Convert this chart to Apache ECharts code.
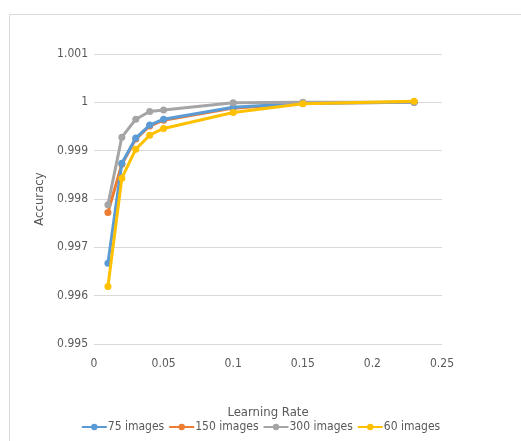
<!DOCTYPE html>
<html>
<head>
<meta charset="utf-8">
<script src="https://cdn.jsdelivr.net/npm/echarts@6/dist/echarts.min.js"></script>
<style>
  html, body { margin: 0; padding: 0; background: #fff; }
  #chart { width: 521px; height: 441px; }
</style>
</head>
<body>
<div id="chart"></div>
<script>
  // learning rates (x) and accuracy per series
  const rates = [0.01, 0.02, 0.03, 0.04, 0.05, 0.1, 0.15, 0.23];
  const acc75 = [0.99667, 0.99874, 0.99926, 0.99953, 0.99965, 0.9999, 0.99998, 1.0];
  const acc150 = [0.99772, 0.99872, 0.99924, 0.99951, 0.99963, 0.99988, 0.99998, 1.0];
  const acc300 = [0.99788, 0.99928, 0.99965, 0.99981, 0.99984, 0.99999, 1.0, 1.0];
  const acc60 = [0.99619, 0.99843, 0.99903, 0.99932, 0.99946, 0.99979, 0.99997, 1.00002];
  const seriesNames = ["75 images", "150 images", "300 images", "60 images"];
  const colors = ["#5B9BD5", "#ED7D31", "#A5A5A5", "#FFC000"];
  const zOrder = [3, 2, 4, 5];

  const FONT = "'DejaVu Sans Condensed', 'Liberation Sans', sans-serif";
  const TXT = "#595959";

  const pairs = (ys) => rates.map((x, i) => [x, ys[i]]);
  const allData = [acc75, acc150, acc300, acc60];

  const chart = echarts.init(document.getElementById("chart"), null, { renderer: "canvas" });

  chart.setOption({
    animation: false,
    color: colors,
    textStyle: { fontFamily: FONT },
    graphic: [
      {
        type: "rect",
        shape: { x: 9.5, y: 14.5, width: 530, height: 450 },
        style: { fill: "none", stroke: "#d9d9d9", lineWidth: 1 },
        silent: true,
      },
    ],
    grid: { left: 94, right: 79, top: 54, bottom: 97 },
    xAxis: {
      type: "value",
      min: 0,
      max: 0.25,
      interval: 0.05,
      name: "Learning Rate",
      nameLocation: "middle",
      nameGap: 62,
      nameTextStyle: { color: TXT, fontSize: 13, fontFamily: FONT },
      axisLine: { show: false },
      axisTick: { show: false },
      splitLine: { show: false },
      axisLabel: {
        color: TXT,
        fontSize: 12,
        margin: 14,
        formatter: (v) => String(+v.toFixed(2)),
      },
    },
    yAxis: {
      type: "value",
      min: 0.995,
      max: 1.001,
      interval: 0.001,
      name: "Accuracy",
      nameLocation: "middle",
      nameGap: 32,
      nameTextStyle: { color: TXT, fontSize: 13, fontFamily: FONT },
      axisLine: { show: false },
      axisTick: { show: false },
      splitLine: { lineStyle: { color: "#d9d9d9", width: 1 } },
      axisLabel: {
        color: TXT,
        fontSize: 12,
        margin: 6,
        formatter: (v) => String(+v.toFixed(3)),
      },
    },
    legend: {
      bottom: 3,
      left: "center",
      itemGap: 4,
      itemWidth: 25,
      itemHeight: 8,
      textStyle: { color: TXT, fontSize: 12, fontFamily: FONT, padding: [0, 0, 0, -4] },
      data: seriesNames,
    },
    series: seriesNames.map((name, i) => ({
      name: name,
      type: "line",
      data: pairs(allData[i]),
      symbol: "circle",
      symbolSize: 7,
      lineStyle: { width: 3, color: colors[i] },
      itemStyle: { color: colors[i] },
      z: zOrder[i],
    })),
  });
</script>
</body>
</html>
